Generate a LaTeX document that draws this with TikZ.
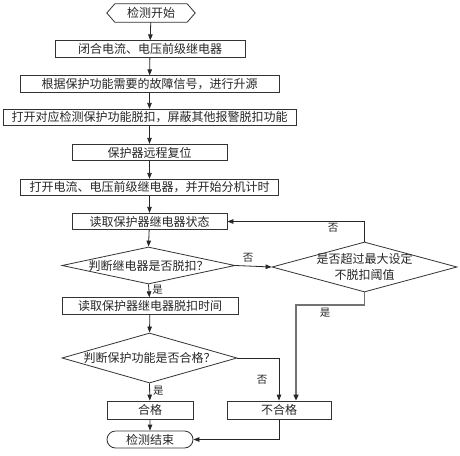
\documentclass[tikz,border=0pt]{standalone}
\usepackage{fontspec}
\setmainfont{Noto Sans CJK SC}
\usetikzlibrary{arrows.meta,shapes.geometric,shapes.misc}
\begin{document}
\begin{tikzpicture}[x=1pt,y=1pt,
  font=\fontsize{12}{14}\selectfont,
  every node/.style={text=black!85},
  box/.style={draw=black!80,line width=0.8pt,inner sep=0pt,minimum height=16.5pt},
  dia/.style={draw=black!80,line width=0.8pt,diamond,inner sep=0pt},
  conn/.style={draw=black!85,line width=0.8pt,-{Triangle[length=6pt,width=4.5pt]}},
  thick conn/.style={draw=black!55,line width=1.6pt,arrows={-{Triangle[length=6pt,width=5pt,color=black!85]}}},
  lbl/.style={font=\fontsize{10.5}{12}\selectfont,inner sep=0pt}]
\useasboundingbox (0,0) rectangle (460,-455);
\node[minimum width=88pt,minimum height=18pt,inner sep=0pt] (start) at (151,-13) {检测开始};
\draw[black!80,line width=0.8pt] (start.west) -- ([xshift=8pt]start.north west) -- ([xshift=-8pt]start.north east)
  -- (start.east) -- ([xshift=-8pt]start.south east) -- ([xshift=8pt]start.south west) -- cycle;
\node[box,minimum width=190pt] (b1) at (150,-49) {闭合电流、电压前级继电器};
\node[box,minimum width=259pt] (b2) at (149.5,-84) {根据保护功能需要的故障信号，进行升源};
\node[box,minimum width=293pt] (b3) at (149.5,-117.5) {打开对应检测保护功能脱扣，屏蔽其他报警脱扣功能};
\node[box,minimum width=155pt] (b4) at (149.5,-152.5) {保护器远程复位};
\node[box,minimum width=258pt] (b5) at (149.5,-187.5) {打开电流、电压前级继电器，并开始分机计时};
\node[box,minimum width=155pt] (b6) at (149.5,-221.5) {读取保护器继电器状态};
\node[dia,minimum width=173pt,minimum height=37pt] (d1) at (148.5,-265.5) {};
\node at (d1) {判断继电器是否脱扣？};
\node[dia,minimum width=185pt,minimum height=50pt] (d2) at (364.5,-267) {};
\node[align=center,font=\fontsize{12}{16}\selectfont] at (d2) {是否超过最大设定\\不脱扣阈值};
\node[box,minimum width=176pt] (b7) at (150,-306) {读取保护器继电器脱扣时间};
\node[dia,minimum width=175pt,minimum height=50pt] (d3) at (149.5,-358) {};
\node at (d3) {判断保护功能是否合格？};
\node[box,minimum width=86pt,minimum height=18pt] (ok) at (150,-410) {合格};
\node[box,minimum width=104pt,minimum height=18pt] (ng) at (279,-410) {不合格};
\node[draw=black!80,line width=0.8pt,rounded rectangle,minimum width=86pt,minimum height=17pt,inner sep=0pt] (end) at (150,-439.5) {检测结束};
\coordinate (j) at (296,-305);
\draw[conn] (start) -- (b1);
\draw[conn] (b1) -- (b2);
\draw[conn] (b2) -- (b3);
\draw[conn] (b3) -- (b4);
\draw[conn] (b4) -- (b5);
\draw[conn] (b5) -- (b6);
\draw[conn] (b6) -- (d1.north);
\draw[conn] (d1.south) -- node[lbl,right=3pt,pos=0.4]{是} (b7);
\draw[conn] (b7) -- (d3.north);
\draw[conn] (d3.south) -- node[lbl,right=3pt,pos=0.4]{是} (ok);
\draw[conn] (ok) -- (end);
\draw[conn] (d1.east) -- node[lbl,above=3pt,pos=0.35]{否} (d2.west);
\draw[conn] (d2.north) |- (b6.east);
\node[lbl] at (333,-228) {否};
\draw[conn] (d3.east) -| (ng.north);
\node[lbl] at (262,-380) {否};
\draw[thick conn] (d2.south) |- (j) -- (j |- ng.north);
\node[lbl] at (325,-313) {是};
\draw[conn] (ng.south) |- (end.east);
\end{tikzpicture}
\end{document}
